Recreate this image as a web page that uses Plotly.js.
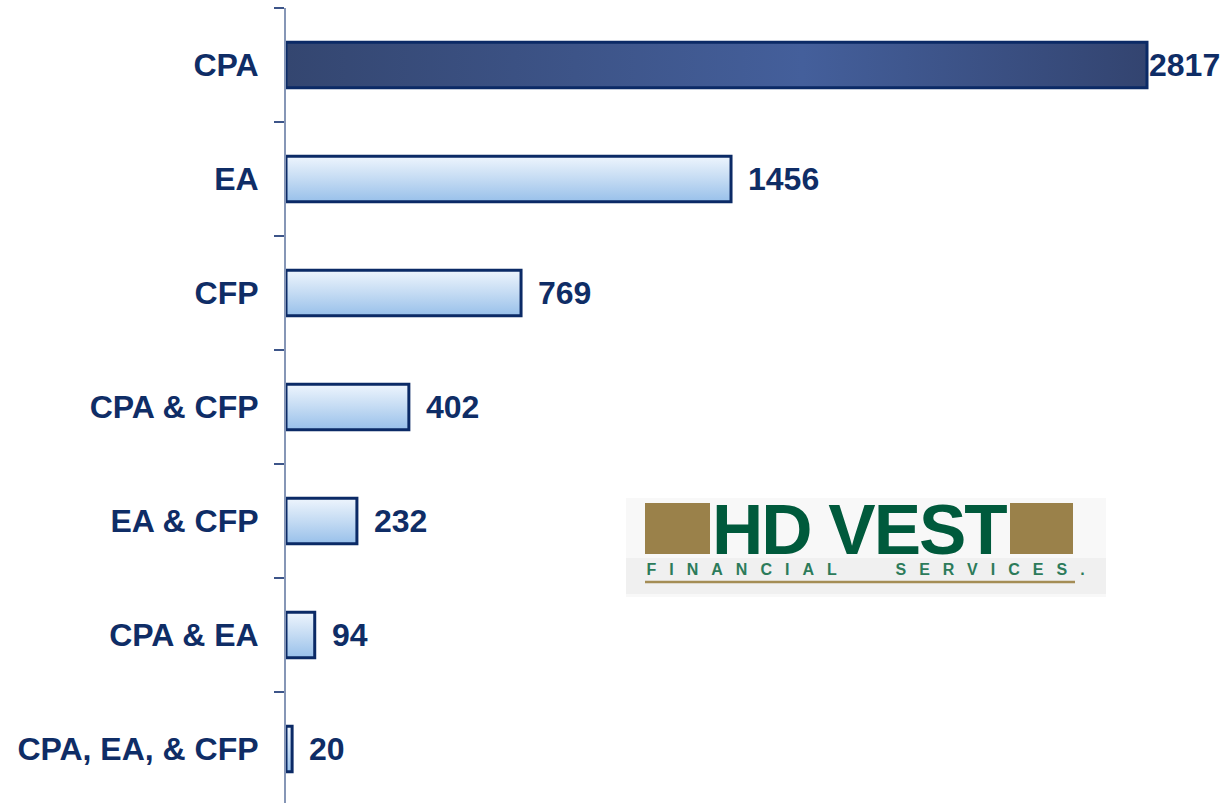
<!DOCTYPE html>
<html>
<head>
<meta charset="utf-8">
<script src="https://cdn.plot.ly/plotly-3.0.1.min.js"></script>
<style>
  html, body { margin: 0; padding: 0; background: #ffffff; }
  #chart { width: 1227px; height: 803px; }
</style>
</head>
<body>
<div id="chart"></div>
<script>
// ---- data ----
const categories = ["CPA", "EA", "CFP", "CPA & CFP", "EA & CFP", "CPA & EA", "CPA, EA, & CFP"];
const counts = [2817, 1456, 769, 402, 232, 94, 20];
const logoTitle = "HD VEST";
const logoWords = ["FINANCIAL", "SERVICES."];

const navy = "#0f2d66";
const labelFont = { family: "Liberation Sans, Arial, sans-serif", size: 32, color: navy, weight: "bold" };

const barTrace = {
  type: "bar",
  orientation: "h",
  y: categories,
  x: counts,
  marker: {
    color: "#b8d4f1",
    line: { color: "#0b2a66", width: 3 }
  },
  hoverinfo: "none"
};

const maxVal = Math.max(...counts);
const valueAnnotations = counts.map((v, i) => ({
  x: v, y: categories[i], xref: "x", yref: "y",
  text: String(v),
  showarrow: false,
  xanchor: "left", yanchor: "middle",
  xshift: v === maxVal ? 0 : 15,
  font: labelFont
}));

// ---- logo (pixel positions converted to paper coordinates) ----
const L = 286, T = 8, W = 941, H = 795;
const px = x => (x - L) / W;
const py = y => 1 - (y - T) / H;

const logoShapes = [
  { type: "rect", xref: "paper", yref: "paper", x0: px(626), x1: px(1106), y0: py(597), y1: py(498),
    fillcolor: "#f8f8f8", line: { width: 0 }, layer: "below" },
  { type: "rect", xref: "paper", yref: "paper", x0: px(626), x1: px(1106), y0: py(594), y1: py(558),
    fillcolor: "#f0f0f0", line: { width: 0 }, layer: "below" },
  { type: "rect", xref: "paper", yref: "paper", x0: px(645), x1: px(710), y0: py(554), y1: py(503),
    fillcolor: "#9a814a", line: { width: 0 } },
  { type: "rect", xref: "paper", yref: "paper", x0: px(1010), x1: px(1073), y0: py(554), y1: py(503),
    fillcolor: "#9a814a", line: { width: 0 } },
  { type: "line", xref: "paper", yref: "paper", x0: px(645), x1: px(1075), y0: py(582), y1: py(582),
    line: { color: "#a48d55", width: 2.5 } }
];

const subFont = { family: "Liberation Sans, Arial, sans-serif", size: 16, color: "#2c7b5a", weight: "bold" };
const SPACING = 13;
const wordCenters = [741.5, 990];
const logoAnnotations = [
  { xref: "paper", yref: "paper", x: px(859), y: py(529), text: logoTitle, showarrow: false,
    xanchor: "center", yanchor: "middle",
    font: { family: "Liberation Sans, Arial, sans-serif", size: 71, color: "#005a3c", weight: "bold" } }
].concat(logoWords.map((w, k) => ({
  xref: "paper", yref: "paper", x: px(wordCenters[k] + SPACING / 2), y: py(569),
  text: w, showarrow: false, xanchor: "center", yanchor: "middle", font: subFont
})));

const layout = {
  width: 1227, height: 803,
  margin: { l: L, r: 0, t: T, b: 0, pad: 0 },
  paper_bgcolor: "#ffffff", plot_bgcolor: "#ffffff",
  showlegend: false,
  bargap: 0.6,
  xaxis: { range: [0, W / (861 / 2817)], visible: false, showgrid: false, zeroline: false, fixedrange: true },
  yaxis: {
    type: "category",
    range: [-0.5 + H / 114, -0.5],
    showline: true, linecolor: "#8696b6", linewidth: 2,
    ticks: "outside", tickson: "boundaries", ticklen: 10, tickwidth: 1.5, tickcolor: "#3d5589",
    showgrid: false, zeroline: false,
    tickfont: labelFont,
    ticklabelstandoff: 19,
    fixedrange: true
  },
  shapes: logoShapes,
  annotations: valueAnnotations.concat(logoAnnotations)
};

Plotly.newPlot("chart", [barTrace], layout, { staticPlot: true, displayModeBar: false }).then(gd => {
  const svgNS = "http://www.w3.org/2000/svg";
  const svg = gd.querySelector(".main-svg");
  let defs = svg.querySelector("defs");
  if (!defs) { defs = document.createElementNS(svgNS, "defs"); svg.insertBefore(defs, svg.firstChild); }
  function grad(id, x2, y2, stops) {
    const g = document.createElementNS(svgNS, "linearGradient");
    g.setAttribute("id", id);
    g.setAttribute("x1", "0"); g.setAttribute("y1", "0");
    g.setAttribute("x2", x2); g.setAttribute("y2", y2);
    stops.forEach(([o, c]) => {
      const s = document.createElementNS(svgNS, "stop");
      s.setAttribute("offset", o); s.setAttribute("stop-color", c);
      g.appendChild(s);
    });
    defs.appendChild(g);
  }
  grad("gLight", "0", "1", [["0", "#eef5fd"], ["0.5", "#c4dbf3"], ["1", "#98c0ea"]]);
  grad("gDark", "1", "0", [["0", "#344670"], ["0.6", "#445f9b"], ["1", "#334470"]]);
  const paths = gd.querySelectorAll(".barlayer .point path");
  paths.forEach((p, i) => {
    p.style.fill = (counts[i] === maxVal) ? "url(#gDark)" : "url(#gLight)";
  });
  gd.querySelectorAll(".annotation-text").forEach(t => {
    const txt = t.textContent;
    if (txt === logoTitle) t.style.letterSpacing = "-2px";
    if (logoWords.indexOf(txt) >= 0) t.style.letterSpacing = SPACING + "px";
  });
});
</script>
</body>
</html>
